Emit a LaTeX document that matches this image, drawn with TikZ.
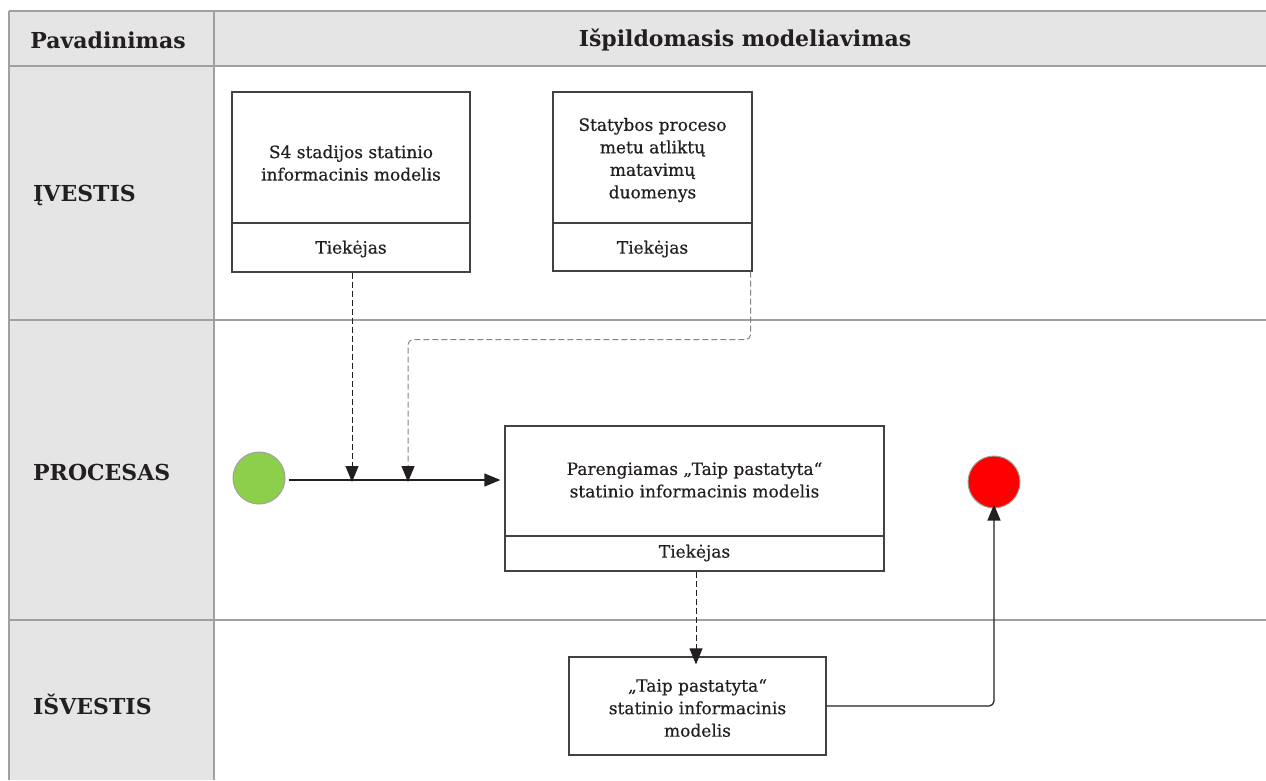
\documentclass[tikz,border=0pt]{standalone}
\usepackage{fontspec}
\setmainfont{DejaVu Serif}
\newfontfamily\bodyfont[FakeBold=0.5]{DejaVu Serif}
\usetikzlibrary{arrows.meta}
\definecolor{gridline}{HTML}{A0A0A0}
\definecolor{panel}{HTML}{E5E5E5}
\definecolor{ink}{HTML}{231F20}
\definecolor{startgreen}{HTML}{8BCF4B}
\definecolor{endred}{HTML}{FF0000}
\tikzset{
  grid/.style={draw=gridline, line width=1.4pt},
  head/.style={font=\fontsize{22}{26}\selectfont\bfseries, text=ink},
  lane/.style={font=\fontsize{22}{26}\selectfont\bfseries, text=ink, anchor=west, inner sep=0pt},
  box/.style={draw=ink!85, line width=1.2pt, fill=white, inner sep=0pt},
  rule/.style={draw=ink!85, line width=1.2pt},
  txt/.style={font=\bodyfont\fontsize{17}{22.5}\selectfont, text=ink, align=center},
  flow/.style={draw=ink, line width=1.2pt, -{Triangle[length=16pt,width=13pt,color=ink]}},
  dataflow/.style={flow, line width=1pt, dash pattern=on 6pt off 3pt},
  greyflow/.style={dataflow, draw=ink!55, rounded corners=5pt},
  event/.style={circle, draw=gridline, line width=1pt, minimum size=52pt, inner sep=0pt},
}
\begin{document}
\begin{tikzpicture}[x=1pt, y=-1pt]
\useasboundingbox (0,0) rectangle (1266,780);

% table background and rules
\fill[panel] (9,11) rectangle (1266,66);
\fill[panel] (9,66) rectangle (214,780);
\draw[grid] (9,11) -- (1266,11);
\draw[grid] (9,66) -- (1266,66);
\draw[grid] (9,320) -- (1266,320);
\draw[grid] (9,620) -- (1266,620);
\draw[grid] (9,11) -- (9,780);
\draw[grid] (214,11) -- (214,780);

% headers and lane names
\node[head] (hname) at (108,40) {Pavadinimas};
\node[head] (hmodel) at (745,40) {Išpildomasis modeliavimas};
\node[lane] (lin) at (33,195) {ĮVESTIS};
\node[lane] (lproc) at (33,472) {PROCESAS};
\node[lane] (lout) at (33,704) {IŠVESTIS};

% input 1
\node[box, minimum width=238pt, minimum height=180pt] (in1) at (351,182) {};
\draw[rule] (in1.west |- 0,223) -- (in1.east |- 0,223);
\node[txt] (in1t) at (351,163) {S4 stadijos statinio\\informacinis modelis};
\node[txt] (in1r) at (351,249) {Tiekėjas};

% input 2
\node[box, minimum width=199pt, minimum height=179pt] (in2) at (652.5,181.5) {};
\draw[rule] (in2.west |- 0,223) -- (in2.east |- 0,223);
\node[txt] (in2t) at (652.5,160) {Statybos proceso\\metu atliktų\\matavimų\\duomenys};
\node[txt] (in2r) at (652.5,249) {Tiekėjas};

% process
\node[box, minimum width=379pt, minimum height=145pt] (proc) at (694.5,498.5) {};
\draw[rule] (proc.west |- 0,536) -- (proc.east |- 0,536);
\node[txt] (proct) at (694.5,480) {Parengiamas „Taip pastatyta“\\statinio informacinis modelis};
\node[txt] (procr) at (694.5,553) {Tiekėjas};

% output
\node[box, minimum width=257pt, minimum height=98pt] (out) at (697.5,706) {};
\node[txt] (outt) at (697.5,708) {„Taip pastatyta“\\statinio informacinis\\modelis};

% events
\node[event, fill=startgreen] (start) at (259,478) {};
\node[event, fill=endred] (stop) at (994,482) {};

% flows
\coordinate (j1) at (352,480);
\coordinate (j2) at (408,480);
\coordinate (px) at (696,0);
\draw[flow] ([xshift=3pt]start.east |- j1) -- ([xshift=-4pt]proc.west |- j1);
\draw[dataflow] (in1.south -| j1) -- ([yshift=-2pt]j1);
\draw[greyflow] ([xshift=-2pt]in2.south east) -- ++(0,68) -| ([yshift=-2pt]j2);
\draw[dataflow] (proc.south -| px) -- ([yshift=-8pt]out.north -| px);
\draw[flow, rounded corners=5pt] (out.east) -| ([yshift=4pt]stop.south);
\end{tikzpicture}
\end{document}
